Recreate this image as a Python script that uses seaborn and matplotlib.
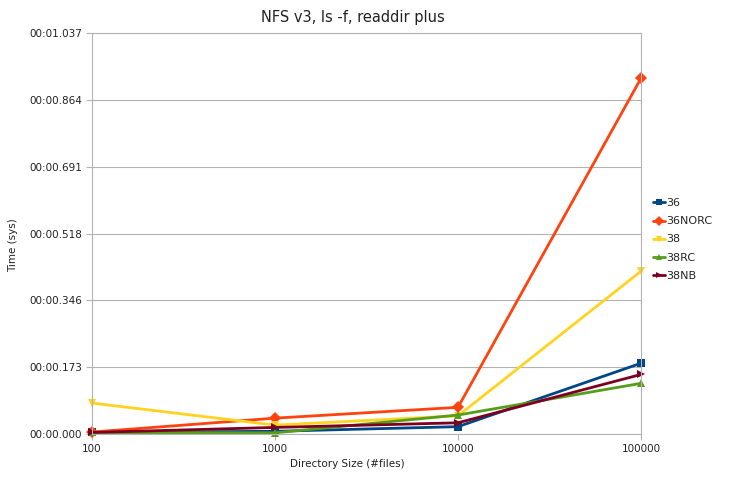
import matplotlib
matplotlib.use("Agg")
import matplotlib.pyplot as plt
import seaborn as sns
import pandas as pd
from matplotlib.lines import Line2D

categories = ["100", "1000", "10000", "100000"]
series_names = ["36", "36NORC", "38", "38RC", "38NB"]
v36 = [0.004, 0.007, 0.019, 0.183]
v36norc = [0.005, 0.041, 0.069, 0.920]
v38 = [0.080, 0.023, 0.047, 0.421]
v38rc = [0.004, 0.003, 0.049, 0.131]
v38nb = [0.004, 0.017, 0.029, 0.154]
y_ticks = [0.0, 0.173, 0.346, 0.518, 0.691, 0.864, 1.037]
y_tick_labels = ["00:00.000", "00:00.173", "00:00.346", "00:00.518",
                 "00:00.691", "00:00.864", "00:01.037"]

colors = ["#004586", "#ff420e", "#ffd320", "#579d1c", "#7e0021"]
markers = ["s", "D", "v", "^", ">"]

rows = []
for name, vals in zip(series_names, [v36, v36norc, v38, v38rc, v38nb]):
    for i, (c, v) in enumerate(zip(categories, vals)):
        rows.append({"pos": i, "size": c, "series": name, "time": v})
df = pd.DataFrame(rows)

sns.set_theme(style="white")
plt.rcParams["font.family"] = ["DejaVu Sans"]

fig = plt.figure(figsize=(7.30, 4.79), dpi=100)
ax = fig.add_axes([92/730, 1-434/479, (641-92)/730, (434-33)/479])

sns.lineplot(data=df, x="pos", y="time", hue="series", style="series",
             hue_order=series_names, style_order=series_names,
             palette=colors, markers=markers, dashes=False,
             linewidth=2.0, markersize=6.3, markeredgewidth=0,
             clip_on=False, ax=ax, legend=False)

ax.set_xlim(0, 3)
ax.set_ylim(0, 1.037)
ax.set_xticks(range(len(categories)))
ax.set_xticklabels(categories, fontsize=7.5, color="#222222")
ax.set_yticks(y_ticks)
ax.set_yticklabels(y_tick_labels, fontsize=7.5, color="#222222")
ax.yaxis.grid(True, color="#b3b3b3", linewidth=0.8)
ax.xaxis.grid(False)
ax.set_axisbelow(True)
for s in ax.spines.values():
    s.set_color("#b3b3b3")
    s.set_linewidth(0.8)
ax.tick_params(axis="both", which="both", direction="out", length=4,
               width=0.8, color="#b3b3b3", pad=3, left=True, bottom=True)
ax.set_xlabel("Directory Size (#files)", fontsize=7.5, color="#222222")
ax.xaxis.set_label_coords((347-92)/549, (434-459)/401)
ax.set_ylabel("")
fig.text(13/730, 1-245/479, "Time (sys)", rotation=90, ha="center", va="center",
         fontsize=7.5, color="#222222")
ax.set_title("NFS v3, ls -f, readdir plus", fontsize=10.5, color="#222222", pad=8)
ax.title.set_position(((353-92)/549, 1.0))

handles = [Line2D([0], [0], color=c, marker=m, linewidth=2.0, markersize=5,
                  markeredgewidth=0) for c, m in zip(colors, markers)]
fig.legend(handles, series_names, loc="center left",
           bbox_to_anchor=(653/730, 1-239.5/479), frameon=False,
           fontsize=8, handlelength=1.08, handletextpad=0.12,
           labelspacing=0.73, borderaxespad=0, borderpad=0)

fig.savefig("out.png", dpi=100)
